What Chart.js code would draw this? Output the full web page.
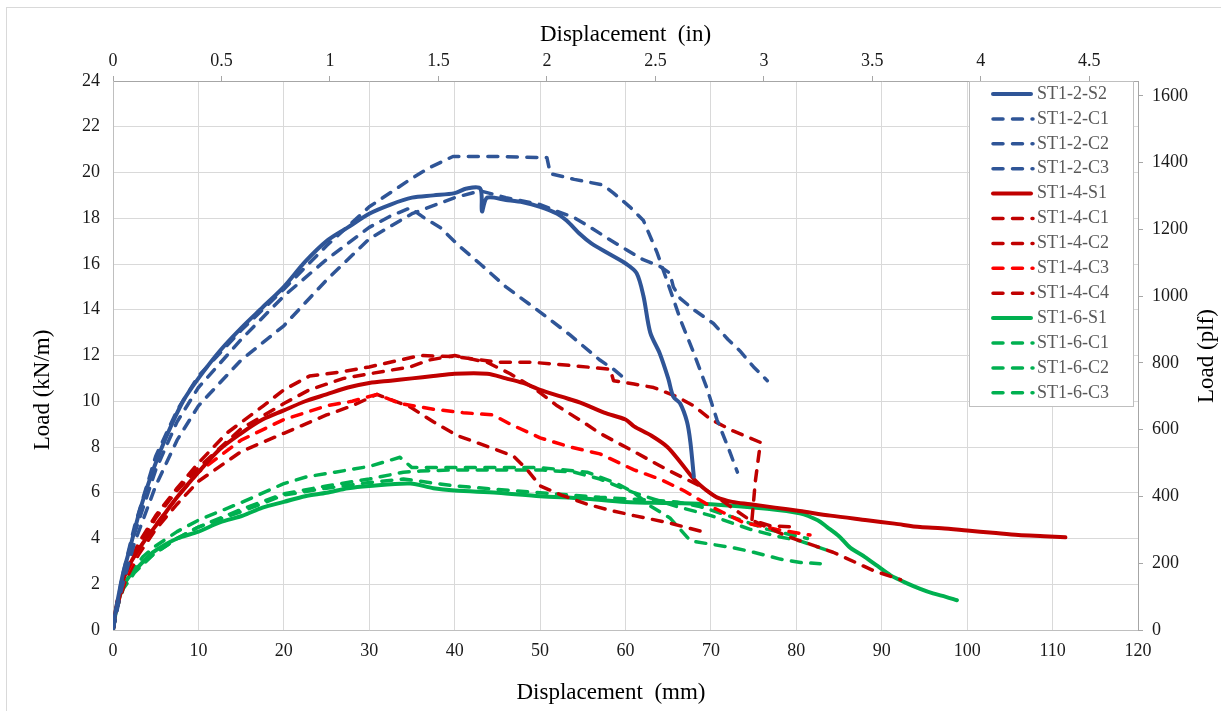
<!DOCTYPE html>
<html>
<head>
<meta charset="utf-8">
<title>Load - displacement</title>
<script src="https://cdn.jsdelivr.net/npm/chart.js@4.4.1/dist/chart.umd.min.js"></script>
<style>
  html, body { margin: 0; padding: 0; background: #fff; }
  #wrap { position: relative; width: 1221px; height: 711px; }
</style>
</head>
<body>
<div id="wrap"><canvas id="grafico" width="1221" height="711"></canvas></div>
<script>
// [desplazamiento mm, carga kN/m]
const ST1_2_S2 = [[0,0],[0.3,0.8],[0.7,1.6],[1.2,2.5],[2,3.6],[3.2,5.3],[4.7,7.0],[6.3,8.5],[8.2,10.0],[10,11.0],[12.5,12.2],[15,13.2],[17.5,14.1],[20,15.0],[22.5,16.1],[25,17.0],[27.5,17.6],[30,18.2],[32.5,18.6],[35,18.9],[37.5,19.0],[40,19.1],[41.4,19.3],[43,19.3],[43.2,18.3],[43.8,18.9],[46,18.8],[48,18.7],[50,18.5],[52,18.2],[53.1,17.9],[54.7,17.3],[56,16.9],[57.8,16.5],[60.1,16.0],[61.3,15.6],[62.1,14.6],[62.9,13.0],[64,12.1],[65,11.0],[65.6,10.2],[66.4,9.9],[67.2,9.1],[67.6,8.2],[68,6.7]];
const ST1_2_C1 = [[0,0],[1,2.2],[2.5,4.5],[5,7.6],[7.5,9.6],[10,11.1],[15,13.1],[20,14.9],[25,16.8],[30,18.5],[34.8,19.7],[37,20.2],[39.8,20.7],[45,20.7],[50.8,20.65],[51.2,19.95],[54,19.7],[57.4,19.45],[58.6,19.1],[60.5,18.5],[62.1,17.9],[63.7,16.5],[65.2,14.9],[66.5,13.5],[68,12.1],[69.5,10.6],[70.7,9.2],[72,8.0],[73.1,6.9]];
const ST1_2_C2 = [[0,0],[1,1.8],[2.5,3.8],[5,6.3],[7.5,8.3],[10,9.8],[15,11.8],[20,13.3],[25,15.3],[30,17.1],[35,18.2],[40,18.9],[43,19.2],[46,18.9],[50,18.6],[52,18.3],[53.9,18.05],[55.9,17.6],[58,17.1],[60.2,16.6],[62,16.2],[64,15.9],[65.2,15.6],[65.6,15.0],[66.4,14.5],[68,14.0],[70.3,13.4],[72,12.7],[73.4,12.2],[75,11.5],[76.6,10.9]];
const ST1_2_C3 = [[0,0],[1,2.0],[2.5,4.2],[5,7.0],[7.5,9.1],[10,10.6],[15,12.7],[20,14.6],[25,16.2],[30,17.6],[32.5,18.1],[34.8,18.45],[36.5,18.0],[38.3,17.6],[40.5,16.8],[43,16.0],[46,15.0],[50,13.9],[53.5,12.9],[57,11.8],[58.6,11.4],[60.2,10.9]];
const ST1_4_S1 = [[0,0],[0.3,0.8],[0.8,1.5],[1.2,2.2],[2,2.9],[3.5,3.8],[5.5,4.8],[7.5,5.8],[10,6.9],[12.5,7.9],[15,8.6],[17.5,9.2],[20,9.6],[22.5,10.0],[25,10.3],[27.5,10.6],[30,10.8],[32.5,10.9],[35,11.0],[37.5,11.1],[40,11.2],[43.8,11.2],[46,11.0],[48,10.8],[50,10.5],[52.5,10.2],[55,9.9],[57.5,9.5],[60,9.2],[61,8.9],[63,8.5],[64.9,8.0],[66.5,7.3],[68,6.6],[69.5,6.1],[70.7,5.8],[72.5,5.6],[74.6,5.5],[77.5,5.35],[80.4,5.2],[84,5.0],[88.3,4.8],[91.5,4.65],[94.5,4.5],[97,4.45],[100,4.35],[103,4.25],[106,4.15],[109,4.1],[111.5,4.05]];
const ST1_4_C1 = [[0,0],[0.5,1.2],[1.5,2.6],[3,3.8],[5,5.0],[7.5,6.2],[10,7.3],[13.3,8.6],[17.6,9.8],[20,10.5],[23,11.1],[27,11.3],[30,11.5],[33,11.75],[36,12.0],[40,11.95],[45.3,11.7],[49.2,11.7],[54,11.55],[58.2,11.4],[58.6,10.9],[61,10.75],[63.3,10.6],[66,10.2],[68,9.8],[70,9.2],[72.6,8.7],[75.8,8.2],[75.2,6.5],[74.8,4.8],[77,4.55],[80,4.5]];
const ST1_4_C2 = [[0,0],[0.5,1.3],[1.5,2.5],[3,3.6],[5,4.9],[7.5,6.1],[10,7.1],[15,8.8],[20,9.9],[23,10.5],[27,11.0],[30,11.2],[34.8,11.5],[37,11.8],[40,12.0],[43.8,11.7],[46.5,11.2],[49.2,10.6],[52,9.8],[55,9.1],[57,8.6],[61,7.8],[64.9,7.0],[68.7,6.3],[71.5,5.6],[74.2,4.9],[78.9,4.1],[84.3,3.4],[89,2.6],[92.2,2.2]];
const ST1_4_C3 = [[0,0],[0.5,1.1],[1.5,2.4],[3,3.5],[5,4.6],[7.5,5.8],[10,6.9],[15,8.3],[20,9.2],[25,9.8],[28,10.0],[30.9,10.3],[33.6,9.9],[37.5,9.65],[41,9.5],[44.5,9.4],[46.5,9.0],[50,8.4],[53.5,8.0],[57,7.7],[61,7.0],[64,6.6],[66.8,6.1],[70,5.4],[73.8,4.7],[77.7,4.4],[81.6,4.15]];
const ST1_4_C4 = [[0,0],[0.5,1.0],[1.5,2.2],[3,3.3],[5,4.4],[7.5,5.5],[10,6.5],[15,7.8],[20,8.6],[25,9.4],[28,9.8],[30.9,10.3],[34.8,9.75],[37.5,9.1],[40.3,8.5],[44,8.0],[46.9,7.6],[48.5,7.0],[50,6.3],[52.5,5.9],[55.5,5.5],[58,5.25],[61,5.0],[64.9,4.7],[69,4.3]];
const ST1_6_S1 = [[0,0],[0.2,0.5],[0.5,1.1],[1.2,1.9],[2,2.4],[2.8,2.7],[4.7,3.4],[7.5,4.0],[10,4.3],[12.5,4.7],[15.2,5.0],[17.5,5.35],[20,5.6],[22.5,5.85],[25,6.0],[27.5,6.2],[30,6.3],[34.8,6.4],[37.5,6.2],[40,6.1],[45,6.0],[50,5.85],[55,5.75],[60,5.6],[65,5.55],[70,5.5],[76.6,5.3],[80.4,5.1],[82.5,4.8],[83.6,4.5],[85,4.1],[86.3,3.6],[88,3.2],[89.5,2.8],[91,2.4],[92.9,2.05],[94.5,1.8],[96,1.6],[97.5,1.45],[98.8,1.3]];
const ST1_6_C1 = [[0,0],[0.5,1.2],[1.2,2.0],[2.5,2.7],[3.5,3.2],[4.7,3.6],[7.5,4.3],[10,4.8],[15.2,5.6],[20,6.4],[22.7,6.7],[26,6.9],[30,7.15],[33.6,7.55],[35,7.1],[40,7.1],[45,7.1],[50,7.1],[55.5,6.9],[59,6.4],[61,6.0],[63,5.4],[65.2,4.9],[67.6,3.9],[70,3.75],[72.6,3.6],[75,3.4],[78.1,3.1],[80.5,2.95],[82.8,2.9]];
const ST1_6_C2 = [[0,0],[0.5,1.1],[1.2,1.9],[2.5,2.6],[4.7,3.3],[7.5,4.0],[10,4.5],[15.2,5.3],[20,5.95],[25,6.3],[30,6.6],[34,6.9],[36,6.95],[40,7.0],[45,7.0],[50,7.0],[54,6.9],[57,6.6],[61,6.0],[66,5.4],[70,5.0],[74.6,4.4],[77.7,4.1],[80.4,3.9],[84.3,3.4]];
const ST1_6_C3 = [[0,0],[0.5,1.0],[1.2,1.8],[2.5,2.5],[4.7,3.3],[7.5,4.0],[10,4.5],[15.2,5.2],[20,5.9],[25,6.2],[30,6.45],[34,6.6],[40,6.3],[45,6.15],[50,6.0],[57,5.8],[62,5.7],[66,5.6],[68.7,5.4],[72,5.0],[76.6,4.4],[81.3,4.0]];

const series = [ST1_2_S2, ST1_2_C1, ST1_2_C2, ST1_2_C3, ST1_4_S1, ST1_4_C1, ST1_4_C2, ST1_4_C3, ST1_4_C4, ST1_6_S1, ST1_6_C1, ST1_6_C2, ST1_6_C3];
const nombres = ['ST1-2-S2', 'ST1-2-C1', 'ST1-2-C2', 'ST1-2-C3', 'ST1-4-S1', 'ST1-4-C1', 'ST1-4-C2', 'ST1-4-C3', 'ST1-4-C4', 'ST1-6-S1', 'ST1-6-C1', 'ST1-6-C2', 'ST1-6-C3'];
const colores = ['#2F5597', '#2F5597', '#2F5597', '#2F5597', '#C00000', '#C00000', '#C00000', '#FF0000', '#C00000', '#00B050', '#00B050', '#00B050', '#00B050'];
const discontinua = [false, true, true, true, false, true, true, true, true, false, true, true, true];

// ejes secundarios: pulgadas arriba, plf a la derecha
const MM_POR_IN = 25.4;
const PLF_POR_KNM = 68.5218;
const X_MAX = 120;
const Y_MAX = 24;
const TICKS_IN = [0, 0.5, 1, 1.5, 2, 2.5, 3, 3.5, 4, 4.5];
const TICKS_PLF = [0, 200, 400, 600, 800, 1000, 1200, 1400, 1600];

Chart.defaults.font.family = '"Liberation Serif", "Times New Roman", serif';
Chart.defaults.color = '#1a1a1a';

const datasets = series.map((puntos, i) => ({
  label: nombres[i],
  data: puntos.map(p => ({ x: p[0], y: p[1] })),
  borderColor: colores[i],
  backgroundColor: colores[i],
  borderWidth: discontinua[i] ? 3.5 : 4,
  borderDash: discontinua[i] ? [10, 9.5] : [],
  borderCapStyle: 'round',
  borderJoinStyle: 'round',
  showLine: true,
  pointRadius: 0,
  tension: discontinua[i] ? 0 : 0.3,
  xAxisID: 'x',
  yAxisID: 'y'
}));

function ticksFijos(valores) {
  return (escala) => {
    escala.ticks = valores.map(v => ({ value: v }));
  };
}

const extras = {
  id: 'extras',
  beforeDraw(chart) {
    const ctx = chart.ctx;
    ctx.save();
    ctx.fillStyle = '#fff';
    ctx.fillRect(0, 0, chart.width, chart.height);
    ctx.strokeStyle = '#d9d9d9';
    ctx.lineWidth = 1;
    ctx.strokeRect(6.5, 7.5, chart.width + 20, chart.height + 20);
    ctx.restore();
  },
  afterDatasetsDraw(chart) {
    // leyenda dentro del area de trazado
    const ctx = chart.ctx;
    ctx.save();
    ctx.fillStyle = '#fff';
    ctx.fillRect(969.5, 81.5, 164, 325);
    ctx.strokeStyle = '#bfbfbf';
    ctx.lineWidth = 1;
    ctx.strokeRect(969.5, 81.5, 164, 325);
    ctx.font = '18px "Liberation Serif"';
    ctx.textBaseline = 'middle';
    chart.data.datasets.forEach((ds, i) => {
      const y = 94 + i * 24.9;
      ctx.beginPath();
      ctx.strokeStyle = ds.borderColor;
      ctx.lineWidth = ds.borderWidth;
      ctx.lineCap = 'round';
      ctx.setLineDash(ds.borderDash);
      ctx.moveTo(993, y);
      ctx.lineTo(ds.borderDash.length ? 1033 : 1031, y);
      ctx.stroke();
      ctx.setLineDash([]);
      ctx.fillStyle = '#595959';
      ctx.fillText(ds.label, 1037, y);
    });
    ctx.restore();
  },
  afterDraw(chart) {
    // titulo inferior y titulos verticales (leidos de abajo hacia arriba)
    const ctx = chart.ctx;
    ctx.save();
    ctx.font = '23px "Liberation Serif"';
    ctx.fillStyle = '#000';
    ctx.textAlign = 'center';
    ctx.textBaseline = 'middle';
    ctx.fillText('Displacement  (mm)', 611, 693);
    [['Load (kN/m)', 43, 390], ['Load (plf)', 1207, 356]].forEach(([texto, x, y]) => {
      ctx.save();
      ctx.translate(x, y);
      ctx.rotate(-Math.PI / 2);
      ctx.fillText(texto, 0, 0);
      ctx.restore();
    });
    ctx.restore();
  }
};

new Chart(document.getElementById('grafico'), {
  type: 'scatter',
  data: { datasets },
  plugins: [extras],
  options: {
    responsive: false,
    animation: false,
    devicePixelRatio: 1,
    layout: { padding: 0 },
    plugins: { legend: { display: false }, tooltip: { enabled: false } },
    scales: {
      x: {
        type: 'linear', position: 'bottom', min: 0, max: X_MAX,
        afterFit: s => { s.height = 81; },
        ticks: { stepSize: 10, padding: 10, maxRotation: 0, font: { size: 18 }, callback: v => String(v) },
        grid: { color: '#d9d9d9', drawTicks: false },
        border: { color: '#bfbfbf' }
      },
      x2: {
        type: 'linear', position: 'top', min: 0, max: X_MAX / MM_POR_IN,
        afterFit: s => { s.height = 81; },
        afterBuildTicks: ticksFijos(TICKS_IN),
        ticks: { padding: 4, maxRotation: 0, autoSkip: false, font: { size: 18 }, callback: v => String(v) },
        grid: { drawOnChartArea: false, tickLength: 5, color: '#a6a6a6' },
        border: { color: '#a6a6a6' },
        title: { display: true, text: 'Displacement  (in)', color: '#000', font: { size: 23 }, padding: { top: 21, bottom: 0 } }
      },
      y: {
        type: 'linear', position: 'left', min: 0, max: Y_MAX,
        afterFit: s => { s.width = 113; },
        ticks: { stepSize: 2, padding: 13, font: { size: 18 }, callback: v => String(v) },
        grid: { color: '#d9d9d9', drawTicks: false },
        border: { color: '#bfbfbf' }
      },
      y2: {
        type: 'linear', position: 'right', min: 0, max: Y_MAX * PLF_POR_KNM,
        afterFit: s => { s.width = 83; },
        afterBuildTicks: ticksFijos(TICKS_PLF),
        ticks: { padding: 9, autoSkip: false, font: { size: 18 }, callback: v => String(v) },
        grid: { drawOnChartArea: false, tickLength: 5, color: '#a6a6a6' },
        border: { color: '#a6a6a6' }
      }
    }
  }
});
</script>
</body>
</html>
